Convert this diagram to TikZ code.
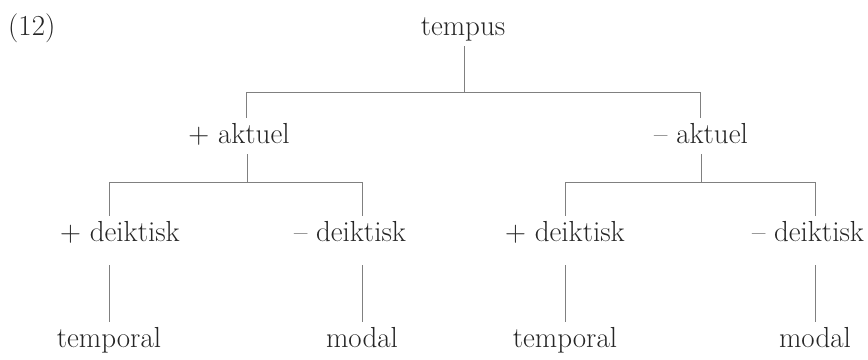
\documentclass[tikz,border=0pt]{standalone}
\usepackage{fontspec}
\begin{document}
\begin{tikzpicture}[x=1pt,y=-1pt,
  lbl/.style={anchor=base,inner sep=5pt,text height=20pt,text depth=6pt,
    font=\fontsize{29}{34}\selectfont,text=black!85},
  ln/.style={draw=black!50,line width=0.9pt}]
\useasboundingbox (0,0) rectangle (868,359);
% nodes
\node[lbl,anchor=base west,inner sep=0pt] (ex) at (8,35) {(12)};
\node[lbl] (tempus) at (463,35) {tempus};
\node[lbl] (akp) at (239,143) {+ aktuel};
\node[lbl] (akm) at (701,143) {-- aktuel};
\node[lbl] (dp1) at (120,241) {+ deiktisk};
\node[lbl] (dm1) at (350,241) {-- deiktisk};
\node[lbl] (dp2) at (565,241) {+ deiktisk};
\node[lbl] (dm2) at (808,241) {-- deiktisk};
\node[lbl] (t1) at (109,347) {temporal};
\node[lbl] (m1) at (362,347) {modal};
\node[lbl] (t2) at (565,347) {temporal};
\node[lbl] (m2) at (815,347) {modal};
% junction coordinates
\coordinate (J0) at (464,92);
\coordinate (J0a) at (246,92);
\coordinate (J0b) at (700,92);
\coordinate (J1) at (247,182);
\coordinate (J1a) at (109,182);
\coordinate (J1b) at (362,182);
\coordinate (J2) at (701,182);
\coordinate (J2a) at (565,182);
\coordinate (J2b) at (815,182);
% level 1
\draw[ln] (tempus.south -| J0) -- (J0);
\draw[ln] (akp.north -| J0a) |- (J0b) -- (akm.north -| J0b);
% level 2
\draw[ln] (akp.south -| J1) -- (J1);
\draw[ln] (dp1.north -| J1a) |- (J1b) -- (dm1.north -| J1b);
\draw[ln] (akm.south -| J2) -- (J2);
\draw[ln] (dp2.north -| J2a) |- (J2b) -- (dm2.north -| J2b);
% level 3
\draw[ln,shorten <=13pt] (dp1.south -| t1.north) -- (t1.north);
\draw[ln,shorten <=13pt] (dm1.south -| m1.north) -- (m1.north);
\draw[ln,shorten <=13pt] (dp2.south -| t2.north) -- (t2.north);
\draw[ln,shorten <=13pt] (dm2.south -| m2.north) -- (m2.north);
\end{tikzpicture}
\end{document}
